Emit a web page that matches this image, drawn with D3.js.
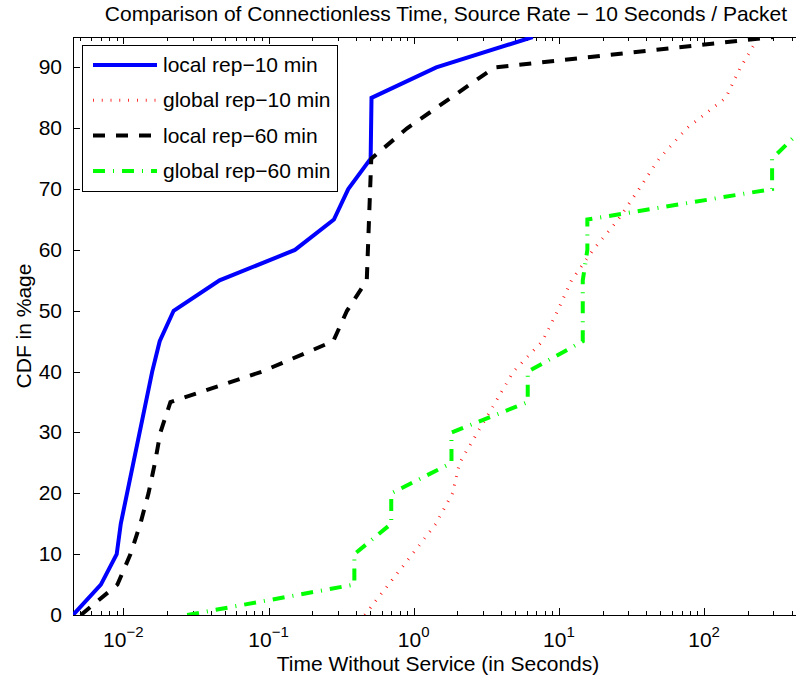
<!DOCTYPE html>
<html>
<head>
<meta charset="utf-8">
<script src="https://cdn.jsdelivr.net/npm/d3@7"></script>
<style>
  body { margin: 0; background: #ffffff; }
  svg { display: block; }
</style>
</head>
<body>
<div id="chart"></div>
<script>
// series values (x in seconds, y in %)
const localRep10X  = [0.0045, 0.007, 0.009, 0.0096, 0.0158, 0.0178, 0.0222, 0.046, 0.152, 0.282, 0.354, 0.505, 0.512, 1.43, 6.6];
const localRep10Y  = [0, 5, 10, 15, 40, 45, 50, 55, 60, 65, 70, 75, 85, 90, 95];
const globalRep10X = [0.46, 0.67, 0.98, 1.42, 1.85, 2.07, 2.75, 3.66, 4.86, 7.7, 9.8, 12.2, 17.2, 25.6, 35.6, 49, 76, 141, 178, 238];
const globalRep10Y = [0, 5, 10, 15, 20, 25, 30, 35, 40, 45, 50, 55, 60, 65, 70, 75, 80, 85, 90, 95];
const localRep60X  = [0.0051, 0.0091, 0.0112, 0.0131, 0.0149, 0.0165, 0.018, 0.0211, 0.09, 0.279, 0.347, 0.475, 0.51, 0.9, 1.8, 3.6, 300];
const localRep60Y  = [0, 5, 10, 15, 20, 25, 30, 35, 40, 45, 50, 55, 75, 80, 85, 90, 95];
const globalRep60X = [0.0275, 0.39, 0.39, 0.70, 0.70, 1.82, 1.82, 6.1, 6.1, 14.6, 14.6, 15.7, 15.7, 294, 294, 480];
const globalRep60Y = [0, 5, 10, 15, 20, 25, 30, 35, 40, 45, 55, 60, 65, 70, 75, 80];

const seriesNames = ["local rep\u221210 min", "global rep\u221210 min", "local rep\u221260 min", "global rep\u221260 min"];
const xMajorTicks = [-2, -1, 0, 1, 2];
const yTicks      = [0, 10, 20, 30, 40, 50, 60, 70, 80, 90];
const titleText   = "Comparison of Connectionless Time, Source Rate \u2212 10 Seconds / Packet";
const xLabelText  = "Time Without Service (in Seconds)";
const yLabelText  = "CDF in %age";

const W = 796, H = 677;
const padL = 73, padR = 803, padT = 37, padB = 615;
const font = "'Liberation Sans', Arial, Helvetica, sans-serif";
const fs = 21;

const x = d3.scaleLog().domain([0.0045, 480]).range([padL, padR]);
const y = d3.scaleLinear().domain([0, 95]).range([padB, padT]);

const svg = d3.select("#chart").append("svg")
  .attr("width", W).attr("height", H)
  .style("font-family", font);

svg.append("defs").append("clipPath").attr("id", "plotClip")
  .append("rect").attr("x", padL).attr("y", padT)
  .attr("width", padR - padL).attr("height", padB - padT);

// minor + major ticks for the log axis
const xTickVals = [];
for (let e = -3; e <= 2; e++) {
  for (let m = 1; m <= 9; m++) {
    const v = m * Math.pow(10, e);
    if (v >= 0.0045 && v <= 480) xTickVals.push({ v: v, major: m === 1 });
  }
}

const axes = svg.append("g").attr("stroke", "#000").attr("stroke-width", 1);

axes.selectAll(".xtb").data(xTickVals).enter().append("line")
  .attr("x1", d => Math.round(x(d.v)) + 0.5).attr("x2", d => Math.round(x(d.v)) + 0.5)
  .attr("y1", padB).attr("y2", d => padB - (d.major ? 7 : 4));
axes.selectAll(".xtt").data(xTickVals).enter().append("line")
  .attr("x1", d => Math.round(x(d.v)) + 0.5).attr("x2", d => Math.round(x(d.v)) + 0.5)
  .attr("y1", padT).attr("y2", d => padT + (d.major ? 7 : 4));
axes.selectAll(".yt").data(yTicks).enter().append("line")
  .attr("x1", padL).attr("x2", padL + 7)
  .attr("y1", d => Math.round(y(d)) + 0.5).attr("y2", d => Math.round(y(d)) + 0.5);

// box
axes.append("rect")
  .attr("x", padL + 0.5).attr("y", padT + 0.5)
  .attr("width", padR - padL).attr("height", padB - padT)
  .attr("fill", "none");

// y tick labels
svg.append("g").selectAll("text").data(yTicks).enter().append("text")
  .attr("x", padL - 11).attr("y", d => y(d) + 7)
  .attr("text-anchor", "end").attr("font-size", fs)
  .text(d => d);

// x tick labels 10^n
const xl = svg.append("g").selectAll("text").data(xMajorTicks).enter().append("text")
  .attr("x", d => x(Math.pow(10, d))).attr("y", 647)
  .attr("text-anchor", "middle").attr("font-size", fs);
xl.append("tspan").text("10");
xl.append("tspan").attr("dy", -10).attr("font-size", 15)
  .text(d => d < 0 ? "\u2212" + (-d) : d);

// titles
svg.append("text").attr("x", 446).attr("y", 21)
  .attr("text-anchor", "middle").attr("font-size", fs).text(titleText);
svg.append("text").attr("x", 438).attr("y", 671)
  .attr("text-anchor", "middle").attr("font-size", fs).text(xLabelText);
svg.append("text").attr("transform", "translate(31," + ((padT + padB) / 2) + ") rotate(-90)")
  .attr("text-anchor", "middle").attr("font-size", fs).text(yLabelText);

// series
const styles = [
  { color: "#0000ff", width: 4,   dash: null },
  { color: "#ff0000", width: 3,   dash: "0.8,8" },
  { color: "#000000", width: 4,   dash: "12,11" },
  { color: "#00ff00", width: 4,   dash: "12,8,1,8" }
];
const seriesData = [
  d3.zip(localRep10X, localRep10Y),
  d3.zip(globalRep10X, globalRep10Y),
  d3.zip(localRep60X, localRep60Y),
  d3.zip(globalRep60X, globalRep60Y)
];

const line = d3.line().x(d => x(d[0])).y(d => y(d[1]));
const plot = svg.append("g").attr("clip-path", "url(#plotClip)");
plot.selectAll("path").data(seriesData).enter().append("path")
  .attr("d", line)
  .attr("fill", "none")
  .attr("stroke", (d, i) => styles[i].color)
  .attr("stroke-width", (d, i) => styles[i].width)
  .attr("stroke-dasharray", (d, i) => styles[i].dash)
  .attr("stroke-linejoin", "miter")
  .attr("stroke-linecap", "butt");

// legend
const lg = svg.append("g");
lg.append("rect").attr("x", 82.5).attr("y", 45.5).attr("width", 255).attr("height", 146)
  .attr("fill", "#fff").attr("stroke", "#000").attr("stroke-width", 1);
const rows = lg.selectAll("g.row").data(seriesNames).enter().append("g")
  .attr("transform", (d, i) => "translate(0," + (65 + i * 35.3) + ")");
rows.append("line").attr("x1", 93).attr("x2", 157).attr("y1", 0).attr("y2", 0)
  .attr("stroke", (d, i) => styles[i].color)
  .attr("stroke-width", (d, i) => styles[i].width)
  .attr("stroke-dasharray", (d, i) => styles[i].dash);
rows.append("text").attr("x", 163).attr("y", 7).attr("font-size", fs).text(d => d);
</script>
</body>
</html>
